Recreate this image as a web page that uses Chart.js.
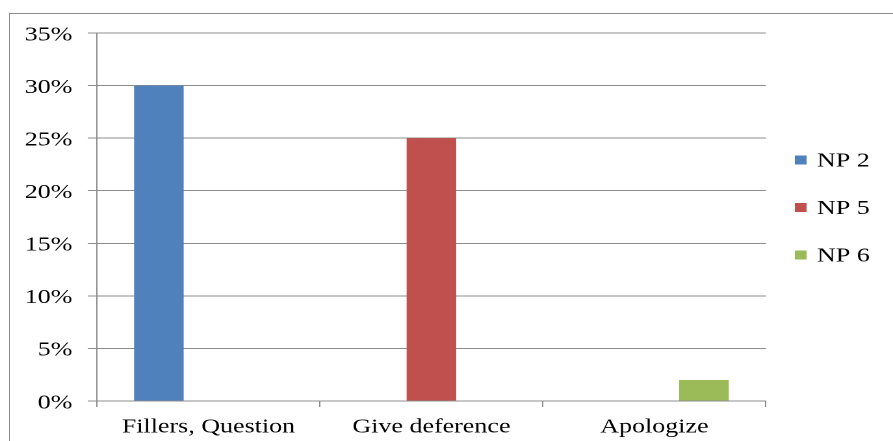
<!DOCTYPE html>
<html>
<head>
<meta charset="utf-8">
<script src="https://cdn.jsdelivr.net/npm/chart.js@4.4.1/dist/chart.umd.min.js"></script>
<style>
  html, body { margin: 0; padding: 0; background: #fff; }
  body { width: 893px; height: 441px; position: relative; overflow: hidden; }
  .frame {
    position: absolute; left: 9px; top: 13px; right: 0; bottom: 0;
    border-left: 1px solid #8a8a8a; border-top: 1px solid #8a8a8a;
  }
  /* the original picture is stretched sideways, so the chart is too */
  .wrap {
    position: absolute; left: 0; top: 0;
    width: 687px; height: 441px;
    transform: scaleX(1.29985); transform-origin: 0 0;
  }
</style>
</head>
<body>
<div class="frame"></div>
<div class="wrap"><canvas id="chart"></canvas></div>
<script>
const categories = ["Fillers, Question", "Give deference", "Apologize"];
const seriesNames = ["NP 2", "NP 5", "NP 6"];
const np2 = [30, null, null];
const np5 = [null, 25, null];
const np6 = [null, null, 2];
const yMax = 35;
const yStep = 5;

const colors = ["#4f81bd", "#c0504d", "#9bbb59"];
const font = { family: "'Liberation Serif', 'Times New Roman', serif", size: 20 };
const gridColor = "#8c8c8c";

// legend drawn by hand so it sits where the original has it
const sideLegend = {
  id: "sideLegend",
  afterDraw(chart) {
    const ctx = chart.ctx;
    const x = 611.5, y0 = 160, gap = 47.5;
    ctx.save();
    ctx.font = font.size + "px " + font.family;
    ctx.textBaseline = "middle";
    chart.data.datasets.forEach((ds, i) => {
      const cy = y0 + i * gap;
      ctx.fillStyle = ds.backgroundColor;
      ctx.fillRect(x, cy - 4.5, 9, 9);
      ctx.fillStyle = "#000";
      ctx.fillText(ds.label, x + 17, cy + 1);
    });
    ctx.restore();
  }
};

const data = {
  labels: categories,
  datasets: [np2, np5, np6].map((vals, i) => ({
    label: seriesNames[i],
    data: vals,
    backgroundColor: colors[i],
    borderWidth: 0,
    categoryPercentage: 0.667,
    barPercentage: 1.0,
  })),
};

new Chart(document.getElementById("chart"), {
  type: "bar",
  data: data,
  options: {
    responsive: true,
    maintainAspectRatio: false,
    animation: false,
    devicePixelRatio: 2,
    layout: { padding: { top: 33, right: 97.8, bottom: 0, left: 0 } },
    plugins: { legend: { display: false }, tooltip: { enabled: false } },
    scales: {
      x: {
        grid: { display: true, drawOnChartArea: false, offset: true, color: gridColor, tickLength: 6 },
        border: { display: true, color: gridColor },
        ticks: { color: "#000", font: font, padding: 8, maxRotation: 0, autoSkip: false },
        afterFit(scale) { scale.height = 40; },
      },
      y: {
        min: 0,
        max: yMax,
        grid: { color: gridColor, tickLength: 7 },
        border: { display: true, color: gridColor },
        ticks: {
          stepSize: yStep,
          color: "#000",
          font: font,
          padding: 12,
          labelOffset: 2,
          callback: (v) => v + "%",
        },
        afterFit(scale) { scale.width = 74.6; },
      },
    },
  },
  plugins: [sideLegend],
});
</script>
</body>
</html>
